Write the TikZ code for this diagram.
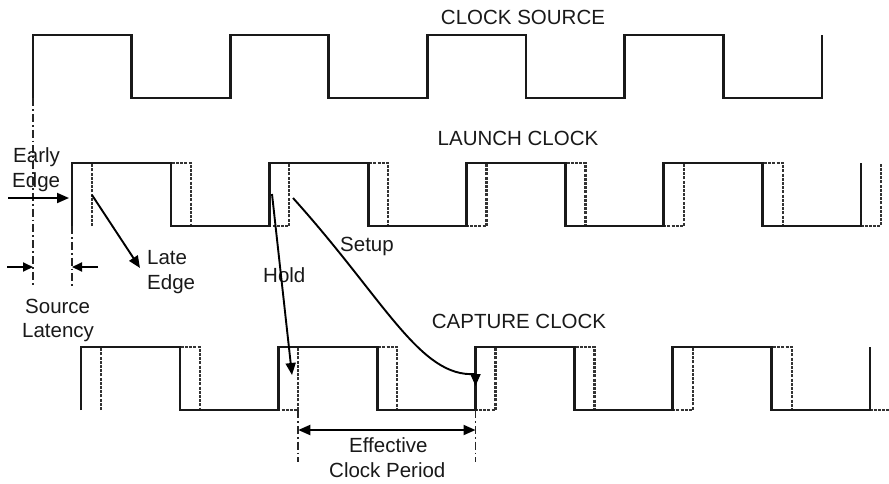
\documentclass[tikz,border=0pt]{standalone}
\usepackage{fontspec}
\setmainfont{Liberation Sans}
\usetikzlibrary{arrows.meta}
\begin{document}
\begin{tikzpicture}[x=1pt,y=-1pt,
  wave/.style={line width=2.6pt, line join=miter, black!90},
  latewave/.style={line width=2.3pt, line join=miter, black!80, dash pattern=on 3pt off 1.2pt},
  dashdot/.style={line width=1.6pt, black!85, dash pattern=on 8pt off 3pt on 1.8pt off 3pt},
  tip/.style={-{Triangle[length=12pt,width=10pt]}},
  arr/.style={line width=1.9pt, tip},
  lbl/.style={font=\fontsize{20.5}{24}\selectfont, inner sep=0pt, anchor=base west, text=black!90}]
\useasboundingbox (0,0) rectangle (889,483);

% ---- waveforms ----
\def\sourcepath{(33,98)--(33,35)--(131.5,35)--(131.5,98)--(230.25,98)--(230.25,35)--(328.75,35)--(328.75,98)--(427.5,98)--(427.5,35)--(526,35)--(526,98)--(624.75,98)--(624.75,35)--(723.25,35)--(723.25,98)--(822,98)--(822,35)}
\def\launchpath{(72,226)--(72,163)--(171,163)--(171,226)--(269.25,226)--(269.25,163)--(368.25,163)--(368.25,226)--(466.5,226)--(466.5,163)--(565.5,163)--(565.5,226)--(663.75,226)--(663.75,163)--(762.75,163)--(762.75,226)--(861,226)--(861,163)}
\def\capturepath{(81,410)--(81,347)--(180,347)--(180,410)--(278.25,410)--(278.25,347)--(377.25,347)--(377.25,410)--(475.5,410)--(475.5,347)--(574.5,347)--(574.5,410)--(672.75,410)--(672.75,347)--(771.75,347)--(771.75,410)--(870,410)--(870,347)}

\draw[wave] \sourcepath;
\draw[latewave, xshift=20pt] \launchpath;
\draw[wave] \launchpath;
\draw[latewave, xshift=20pt] \capturepath;
\draw[wave] \capturepath;

% ---- titles ----
\node[lbl, anchor=base] (tsrc) at (523,24) {CLOCK SOURCE};
\node[lbl, anchor=base] (tlaunch) at (518,145) {LAUNCH CLOCK};
\node[lbl, anchor=base] (tcap) at (519,328) {CAPTURE CLOCK};

% ---- reference lines ----
\coordinate (s0) at (33,98);
\coordinate (s1) at (33,287);
\coordinate (l0) at (72,226);
\coordinate (l1) at (72,287);
\coordinate (c0) at (298.25,410);
\coordinate (c1) at (298.25,462);
\coordinate (d0) at (475.5,410);
\coordinate (d1) at (475.5,462);
\draw[dashdot] (s0) -- (s1);
\draw[dashdot] (l0) -- (l1);
\draw[dashdot] (c0) -- (c1);
\draw[dashdot] (d0) -- (d1);

% ---- early / late edge ----
\node[lbl] (early1) at (13,162) {Early};
\node[lbl] (early2) at (12,187) {Edge};
\coordinate (ea) at (8,198);
\coordinate (eb) at (69,198);
\draw[arr] (ea) -- (eb);

\node[lbl] (late1) at (147,264) {Late};
\node[lbl] (late2) at (147,289) {Edge};
\coordinate (la) at (92,195);
\coordinate (lb) at (140,268);
\draw[arr] (la) -- (lb);

% ---- source latency ----
\coordinate (sl1) at (7,267);
\coordinate (sl2) at (33,267);
\coordinate (sr1) at (98,267);
\coordinate (sr2) at (72,267);
\draw[arr, -{Triangle[length=10pt,width=9pt]}] (sl1) -- (sl2);
\draw[arr, -{Triangle[length=10pt,width=9pt]}] (sr1) -- (sr2);
\node[lbl] (src1) at (25,313) {Source};
\node[lbl] (src2) at (22,337) {Latency};

% ---- hold / setup ----
\node[lbl] (hold) at (263,282) {Hold};
\coordinate (ha) at (272,194);
\coordinate (hb) at (292,375);
\draw[arr] (ha) -- (hb);

\node[lbl] (setup) at (340,251) {Setup};
\coordinate (sa) at (293,198);
\coordinate (sm) at (475.5,374);
\coordinate (sb) at (475.5,386);
\draw[line width=1.9pt] (sa) .. controls (385,300) and (420,378) .. (sm);
\draw[arr] (sm) -- (sb);

% ---- effective clock period ----
\coordinate (ep1) at (298.25,430);
\coordinate (ep2) at (475.5,430);
\draw[line width=1.9pt, {Triangle[length=12pt,width=10pt]}-{Triangle[length=12pt,width=10pt]}] (ep1) -- (ep2);
\node[lbl] (eff1) at (349,452) {Effective};
\node[lbl] (eff2) at (329,477) {Clock Period};
\end{tikzpicture}
\end{document}
